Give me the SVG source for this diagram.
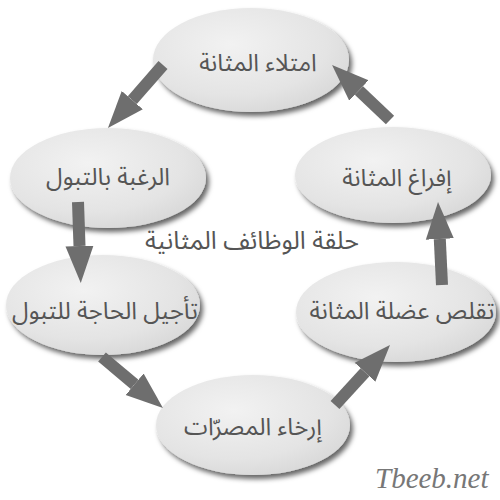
<svg xmlns="http://www.w3.org/2000/svg" width="500" height="500" viewBox="0 0 500 500">
<defs>
<radialGradient id="g" cx="0.4" cy="0.35" r="0.7">
<stop offset="0" stop-color="#f2f2f2"/>
<stop offset="0.7" stop-color="#e4e4e4"/>
<stop offset="1" stop-color="#d8d8d8"/>
</radialGradient>
<filter id="sh" x="-20%" y="-20%" width="150%" height="160%">
<feDropShadow dx="3" dy="4" stdDeviation="2.5" flood-color="#000" flood-opacity="0.6"/>
</filter>
<marker id="ah" markerUnits="userSpaceOnUse" markerWidth="40" markerHeight="32" refX="0" refY="14" orient="auto" viewBox="0 0 40 28">
<path d="M0,0 L37,14 L0,28 z" fill="#6e6e6e"/>
</marker>
</defs>
<style>
.n ellipse{fill:url(#g);filter:url(#sh)}
.n text,.t{font-family:"Noto Sans Arabic","DejaVu Sans","Noto Sans",sans-serif;font-size:24px;fill:#555;text-anchor:middle}
.t{font-size:25px}
.c line{stroke:#6e6e6e;stroke-width:12;marker-end:url(#ah)}
.w{font-family:"Liberation Serif",serif;font-style:italic;font-size:29px;fill:#777}
</style>
<rect width="500" height="500" fill="#fff"/>
<g id="n1" class="n"><ellipse cx="251" cy="60" rx="98" ry="52"/><text x="258" y="71">امتلاء المثانة</text></g>
<g id="n2" class="n"><ellipse cx="108" cy="178" rx="98" ry="50"/><text x="108" y="185">الرغبة بالتبول</text></g>
<g id="n3" class="n"><ellipse cx="393" cy="175" rx="98" ry="48"/><text x="397" y="186">إفراغ المثانة</text></g>
<g id="n4" class="n"><ellipse cx="103" cy="305" rx="97" ry="50"/><text x="105" y="319">تأجيل الحاجة للتبول</text></g>
<g id="n5" class="n"><ellipse cx="396" cy="312" rx="100" ry="50"/><text x="402" y="319">تقلص عضلة المثانة</text></g>
<g id="n6" class="n"><ellipse cx="253" cy="425" rx="97" ry="50"/><text x="253" y="435">إرخاء المصرّات</text></g>
<g id="connectors" class="c">
<line x1="163" y1="65" x2="132.3" y2="100.1"/>
<line x1="78" y1="202" x2="79.5" y2="246"/>
<line x1="102" y1="357" x2="134.6" y2="384.3"/>
<line x1="335" y1="405" x2="365" y2="372.3"/>
<line x1="442" y1="285" x2="439.8" y2="239"/>
<line x1="390" y1="120" x2="358.9" y2="90.5"/>
</g>
<text class="t" x="252" y="249">حلقة الوظائف المثانية</text>
<text class="w" x="375" y="488">Tbeeb.net</text>
</svg>
